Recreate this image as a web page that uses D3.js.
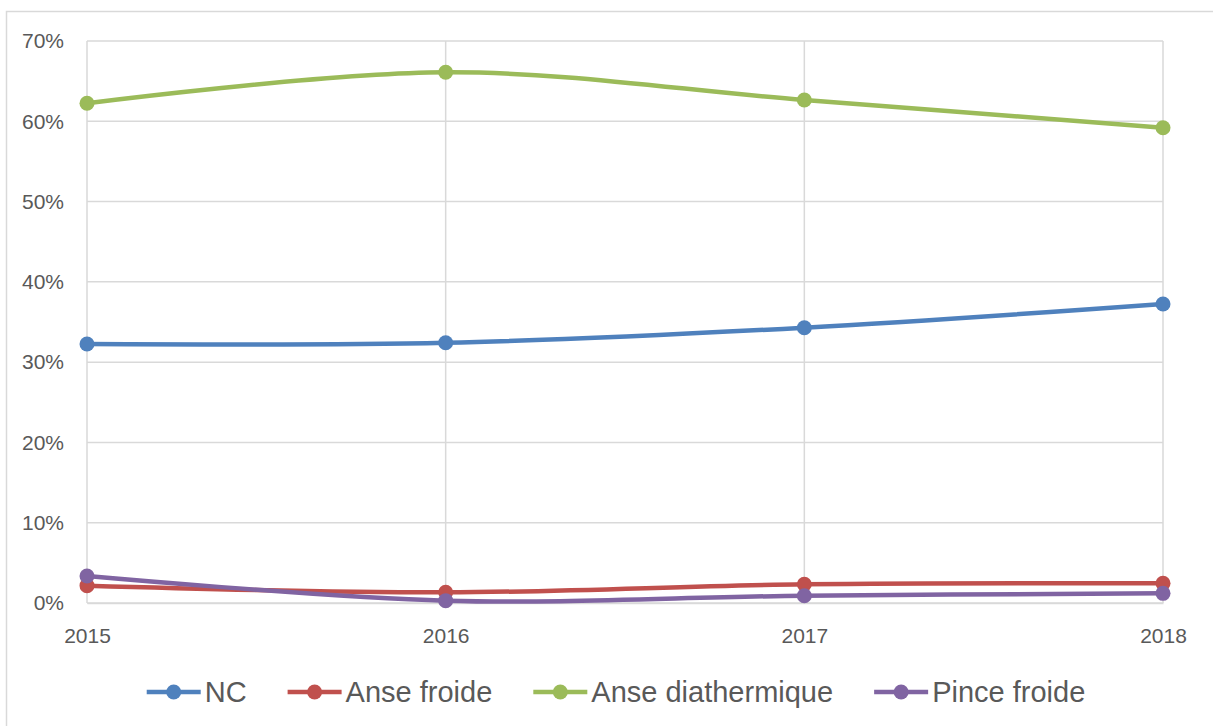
<!DOCTYPE html>
<html>
<head>
<meta charset="utf-8">
<script src="https://cdn.jsdelivr.net/npm/d3@7"></script>
<style>
  html, body { margin: 0; padding: 0; background: #fff; }
  svg { display: block; font-family: "Liberation Sans", Arial, sans-serif; }
</style>
</head>
<body>
<svg id="chart"></svg>
<script>
// data
const years = ["2015", "2016", "2017", "2018"]
const nc = [32.26, 32.42, 34.29, 37.24]
const anseFroide = [2.16, 1.33, 2.33, 2.45]
const anseDiathermique = [62.24, 66.1, 62.65, 59.2]
const pinceFroide = [3.36, 0.29, 0.91, 1.2]
const yTicks = [0, 10, 20, 30, 40, 50, 60, 70]

const seriesNames = ["NC", "Anse froide", "Anse diathermique", "Pince froide"]
const seriesValues = [nc, anseFroide, anseDiathermique, pinceFroide]
const seriesColors = ["#4f81bd", "#c0504d", "#9bbb59", "#8064a2"]

const width = 1213
const height = 726
const margin = ({ top: 41, right: 50, bottom: 123, left: 87 })
const textColor = "#595959"
const gridColor = "#d9d9d9"

const svg = d3.select("#chart").attr("width", width).attr("height", height)

// chart area border (runs off the right and bottom of the picture)
svg.append("rect")
  .attr("x", 6.5).attr("y", 11.5)
  .attr("width", width + 50).attr("height", height + 50)
  .attr("fill", "#fff")
  .attr("stroke", gridColor)
  .attr("stroke-width", 1.5)

let x = d3.scalePoint()
  .domain(years)
  .range([margin.left, width - margin.right])

let y = d3.scaleLinear()
  .domain([0, 70])
  .range([height - margin.bottom, margin.top])

// gridlines
svg.append("g")
  .selectAll("line")
  .data(yTicks)
  .join("line")
  .attr("x1", margin.left).attr("x2", width - margin.right)
  .attr("y1", d => y(d)).attr("y2", d => y(d))
  .attr("stroke", gridColor).attr("stroke-width", 1.5)

svg.append("g")
  .selectAll("line")
  .data(years)
  .join("line")
  .attr("x1", d => x(d)).attr("x2", d => x(d))
  .attr("y1", y(70)).attr("y2", y(0))
  .attr("stroke", gridColor).attr("stroke-width", 1.5)

// axes
const yAxis = svg.append("g")
  .attr("transform", `translate(${margin.left} 0)`)
  .call(d3.axisLeft(y).tickValues(yTicks).tickFormat(d => d + "%").tickSize(0).tickPadding(23))
yAxis.select(".domain").remove()

const xAxis = svg.append("g")
  .attr("transform", `translate(0 ${y(0)})`)
  .call(d3.axisBottom(x).tickSize(0).tickPadding(25))
xAxis.select(".domain").attr("stroke", gridColor).attr("stroke-width", 1.5)

svg.selectAll(".tick text")
  .attr("fill", textColor)
  .style("font-size", "21px")
  .style("font-family", "'Liberation Sans', Arial, sans-serif")

// lines and markers
const line = d3.line()
  .x((d, i) => x(years[i]))
  .y(d => y(d))
  .curve(d3.curveCatmullRom.alpha(0))

seriesValues.forEach((vals, k) => {
  const g = svg.append("g")
  g.append("path")
    .datum(vals)
    .attr("d", line)
    .attr("fill", "none")
    .attr("stroke", seriesColors[k])
    .attr("stroke-width", 4.5)
    .attr("stroke-linecap", "round")
  g.selectAll("circle")
    .data(vals)
    .join("circle")
    .attr("cx", (d, i) => x(years[i]))
    .attr("cy", d => y(d))
    .attr("r", 7.5)
    .attr("fill", seriesColors[k])
})

// legend
const legendY = 692
const legend = svg.append("g")
const items = legend.selectAll("g")
  .data(seriesNames)
  .join("g")

items.append("line")
  .attr("x1", 0).attr("x2", 54)
  .attr("y1", legendY).attr("y2", legendY)
  .attr("stroke", (d, i) => seriesColors[i])
  .attr("stroke-width", 4.5)
items.append("circle")
  .attr("cx", 27).attr("cy", legendY).attr("r", 7.5)
  .attr("fill", (d, i) => seriesColors[i])
items.append("text")
  .attr("x", 58).attr("y", legendY + 10)
  .attr("fill", textColor)
  .style("font-size", "29px")
  .text(d => d)

let cursor = 0
items.each(function () {
  const w = this.getBBox().width
  d3.select(this).attr("transform", `translate(${cursor} 0)`)
  cursor += w + 41
})
const total = cursor - 41
legend.attr("transform", `translate(${616 - total / 2} 0)`)
</script>
</body>
</html>
